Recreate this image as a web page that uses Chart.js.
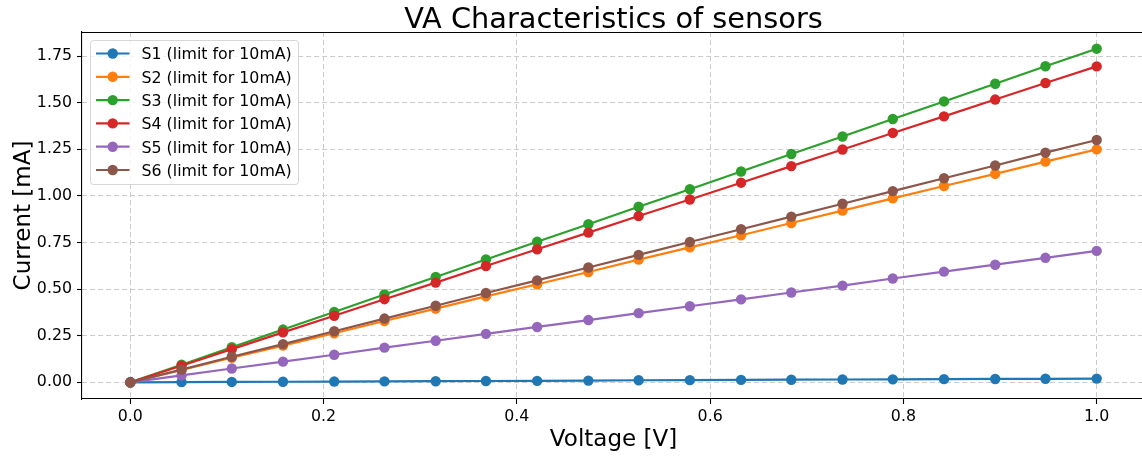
<!DOCTYPE html>
<html>
<head>
<meta charset="utf-8">
<title>VA Characteristics of sensors</title>
<script src="https://cdn.jsdelivr.net/npm/chart.js@4.4.1/dist/chart.umd.min.js"></script>
<style>
  html, body { margin: 0; padding: 0; background: #ffffff; overflow: hidden; }
  #wrap { position: absolute; left: 0; top: 0; width: 1142px; height: 457px; }
  #va { display: block; width: 1142px; height: 457px; }
</style>
</head>
<body>
<div id="wrap"><canvas id="va" width="1142" height="457"></canvas></div>
<script>
// Applied voltage [V] for each measurement step
const voltage = [0.000, 0.053, 0.105, 0.158, 0.211, 0.263, 0.316, 0.368, 0.421, 0.474,
                 0.526, 0.579, 0.632, 0.684, 0.737, 0.789, 0.842, 0.895, 0.947, 1.000];

// Measured current [mA] per sensor
const s1 = [0.000, 0.001, 0.002, 0.003, 0.004, 0.005, 0.006, 0.007, 0.008, 0.009,
            0.011, 0.012, 0.013, 0.014, 0.015, 0.016, 0.017, 0.018, 0.019, 0.020];
const s2 = [0.000, 0.066, 0.132, 0.197, 0.263, 0.329, 0.395, 0.461, 0.526, 0.592,
            0.658, 0.724, 0.789, 0.855, 0.921, 0.987, 1.053, 1.118, 1.184, 1.250];
const s3 = [0.000, 0.094, 0.188, 0.283, 0.377, 0.471, 0.565, 0.659, 0.754, 0.848,
            0.942, 1.036, 1.131, 1.225, 1.319, 1.413, 1.507, 1.602, 1.696, 1.790];
const s4 = [0.000, 0.089, 0.178, 0.268, 0.357, 0.446, 0.535, 0.624, 0.714, 0.803,
            0.892, 0.981, 1.071, 1.160, 1.249, 1.338, 1.427, 1.517, 1.606, 1.695];
const s5 = [0.000, 0.037, 0.074, 0.111, 0.148, 0.186, 0.223, 0.260, 0.297, 0.334,
            0.371, 0.408, 0.445, 0.482, 0.519, 0.557, 0.594, 0.631, 0.668, 0.705];
const s6 = [0.000, 0.068, 0.137, 0.205, 0.274, 0.342, 0.411, 0.479, 0.547, 0.616,
            0.684, 0.753, 0.821, 0.889, 0.958, 1.026, 1.095, 1.163, 1.232, 1.300];

const seriesNames = ['S1 (limit for 10mA)', 'S2 (limit for 10mA)', 'S3 (limit for 10mA)',
                     'S4 (limit for 10mA)', 'S5 (limit for 10mA)', 'S6 (limit for 10mA)'];
const seriesValues = [s1, s2, s3, s4, s5, s6];
const seriesColors = ['#1f77b4', '#ff7f0e', '#2ca02c', '#d62728', '#9467bd', '#8c564b'];

// Axis ticks
const xTicks = [0.0, 0.2, 0.4, 0.6, 0.8, 1.0];
const xTickLabels = ['0.0', '0.2', '0.4', '0.6', '0.8', '1.0'];
const yTicks = [0.00, 0.25, 0.50, 0.75, 1.00, 1.25, 1.50, 1.75];
const yTickLabels = ['0.00', '0.25', '0.50', '0.75', '1.00', '1.25', '1.50', '1.75'];

const FONT = "'DejaVu Sans', 'Liberation Sans', sans-serif";
const TITLE = 'VA Characteristics of sensors';
const X_LABEL = 'Voltage [V]';
const Y_LABEL = 'Current [mA]';
const PLOT_RIGHT = 1145; // right frame edge sits just past the canvas

const datasets = seriesValues.map((vals, i) => ({
  label: seriesNames[i],
  data: vals.map((v, j) => ({ x: voltage[j], y: v })),
  borderColor: seriesColors[i],
  backgroundColor: seriesColors[i],
  borderWidth: 2.2,
  pointRadius: 5.2,
  pointBorderWidth: 0,
  pointHoverRadius: 5.2,
  showLine: true,
  fill: false,
  tension: 0,
  order: seriesValues.length - i
}));

// Stretch the plot area so its right frame falls outside the visible canvas
const widenPlot = {
  id: 'widenPlot',
  afterLayout(chart) {
    const area = chart.chartArea;
    area.right = PLOT_RIGHT;
    area.width = area.right - area.left;
    const xs = chart.scales.x;
    xs.right = PLOT_RIGHT;
    xs.width = xs.right - xs.left;
    xs.configure();
    const ys = chart.scales.y;
    ys.configure();
  }
};

// Title, axis labels, top frame line and the boxed legend
const decorations = {
  id: 'decorations',
  afterDatasetsDraw(chart) {
    const ctx = chart.ctx;

    // legend
    const bx = 90.5, by = 40.5, bw = 208, bh = 144;
    ctx.save();
    ctx.beginPath();
    ctx.roundRect(bx, by, bw, bh, 3);
    ctx.fillStyle = 'rgba(255,255,255,0.8)';
    ctx.fill();
    ctx.lineWidth = 1;
    ctx.strokeStyle = 'rgba(204,204,204,0.8)';
    ctx.stroke();
    ctx.font = '15.8px ' + FONT;
    ctx.textBaseline = 'alphabetic';
    ctx.textAlign = 'left';
    chart.data.datasets.forEach((ds, i) => {
      const cy = 53.5 + i * 23.3;
      ctx.strokeStyle = ds.borderColor;
      ctx.lineWidth = 2.2;
      ctx.beginPath();
      ctx.moveTo(96, cy);
      ctx.lineTo(129.5, cy);
      ctx.stroke();
      ctx.fillStyle = ds.borderColor;
      ctx.beginPath();
      ctx.arc(112.7, cy, 5.2, 0, Math.PI * 2);
      ctx.fill();
      ctx.fillStyle = '#000000';
      ctx.fillText(ds.label, 141.5, cy + 5.8);
    });
    ctx.restore();
  },
  afterDraw(chart) {
    const ctx = chart.ctx;
    const a = chart.chartArea;
    ctx.save();
    // top frame line
    ctx.strokeStyle = '#000000';
    ctx.lineWidth = 1.1;
    ctx.beginPath();
    ctx.moveTo(a.left, a.top + 0.5);
    ctx.lineTo(a.right, a.top + 0.5);
    ctx.stroke();

    const cx = (a.left + a.right) / 2;
    ctx.fillStyle = '#000000';
    ctx.textAlign = 'center';
    ctx.textBaseline = 'alphabetic';
    ctx.font = '28.8px ' + FONT;
    ctx.fillText(TITLE, cx, 28);

    ctx.font = '23px ' + FONT;
    ctx.fillText(X_LABEL, cx, 446);

    ctx.translate(30, (a.top + a.bottom) / 2);
    ctx.rotate(-Math.PI / 2);
    ctx.fillText(Y_LABEL, 0, 0);
    ctx.restore();
  }
};

const gridStyle = {
  color: '#cbcbcb',
  lineWidth: 1,
  tickLength: 5,
  tickColor: '#000000',
  tickWidth: 1.1,
  tickBorderDash: [],
  drawTicks: true
};
const borderStyle = { display: true, color: '#000000', width: 1.1, dash: [5, 3] };

new Chart(document.getElementById('va'), {
  type: 'scatter',
  data: { datasets },
  plugins: [widenPlot, decorations],
  options: {
    responsive: false,
    maintainAspectRatio: false,
    animation: false,
    events: [],
    layout: { autoPadding: false, padding: { top: 32, left: 0, right: 0, bottom: 0 } },
    plugins: {
      legend: { display: false },
      title: { display: false },
      tooltip: { enabled: false }
    },
    scales: {
      x: {
        type: 'linear',
        min: -0.05,
        max: 1.05,
        afterFit(s) { s.height = 58; s.paddingLeft = 0; s.paddingRight = 0; },
        afterBuildTicks(s) { s.ticks = xTicks.map(v => ({ value: v })); },
        grid: gridStyle,
        border: borderStyle,
        ticks: {
          color: '#000000',
          padding: 3,
          maxRotation: 0,
          font: { family: FONT, size: 15.8 },
          callback: (v) => xTickLabels[xTicks.indexOf(v)] ?? ''
        }
      },
      y: {
        type: 'linear',
        min: -0.0895,
        max: 1.8795,
        afterFit(s) { s.width = 82; s.paddingTop = 0; s.paddingBottom = 0; },
        afterBuildTicks(s) { s.ticks = yTicks.map(v => ({ value: v })); },
        grid: gridStyle,
        border: borderStyle,
        ticks: {
          color: '#000000',
          padding: 5,
          font: { family: FONT, size: 15.8 },
          callback: (v) => yTickLabels[yTicks.indexOf(v)] ?? ''
        }
      }
    }
  }
});
</script>
</body>
</html>
